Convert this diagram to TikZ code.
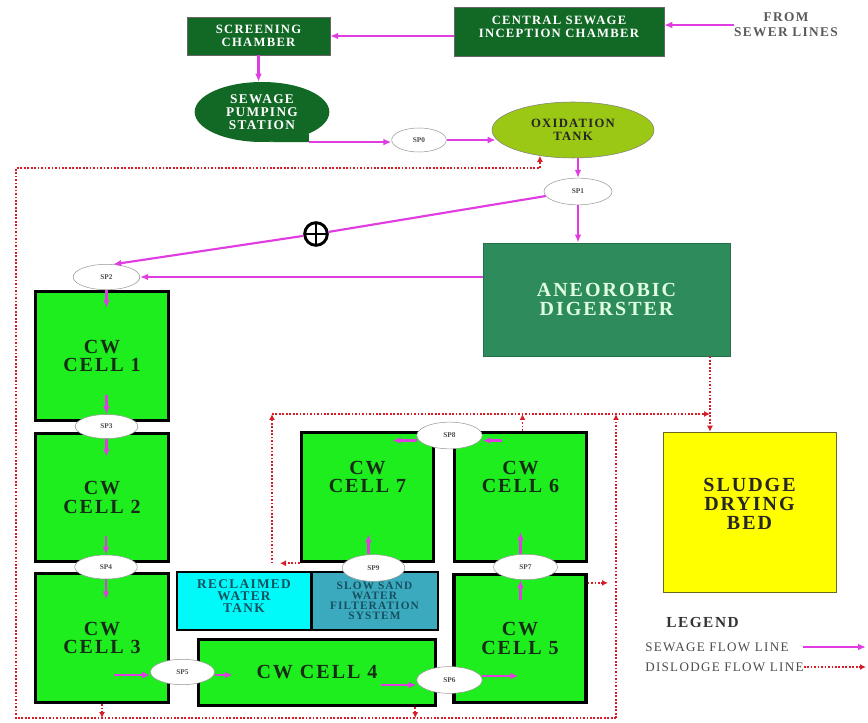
\documentclass[tikz,border=0pt]{standalone}
\usepackage{fontspec}
\setmainfont{Liberation Serif}
\newfontfamily\widefont[LetterSpace=10]{Liberation Serif}
\usetikzlibrary{arrows.meta,shapes.geometric,calc}

\definecolor{boxgreen}{RGB}{18,105,38}
\definecolor{diggreen}{RGB}{46,139,92}
\definecolor{oxigreen}{RGB}{155,200,20}
\definecolor{cellgreen}{RGB}{30,238,30}
\definecolor{celltext}{RGB}{20,45,20}
\definecolor{tankcyan}{RGB}{0,250,250}
\definecolor{sandteal}{RGB}{60,170,190}
\definecolor{tanktext}{RGB}{20,80,95}
\definecolor{bedyellow}{RGB}{255,255,0}
\definecolor{flowpink}{RGB}{225,60,225}
\definecolor{dlred}{RGB}{215,30,40}

\tikzset{
  darkbox/.style={draw=black!60, fill=boxgreen, text=white, align=center, inner sep=0pt,
    font=\widefont\bfseries\fontsize{9.5}{10}\selectfont},
  cell/.style={draw=black, line width=2.4pt, fill=cellgreen, text=celltext, align=center, inner sep=0pt,
    font=\widefont\bfseries\fontsize{15}{14}\selectfont},
  celltxt/.style={text=celltext, align=center, inner sep=0pt,
    font=\widefont\bfseries\fontsize{15}{14}\selectfont},
  tankbox/.style={draw=black, line width=2pt, text=tanktext, align=center, inner sep=0pt},
  sp/.style={ellipse, draw=black!40, fill=white, inner sep=0pt, text=black!70,
    font=\bfseries\fontsize{5.5}{6}\selectfont},
  flow/.style={draw=flowpink, line width=1.6pt, -{Latex[length=6pt,width=5pt]}},
  dislodge/.style={draw=dlred, line width=1.3pt, dash pattern=on 1.3pt off 1.3pt,
    -{Latex[length=4.5pt,width=4.5pt]}},
  legtext/.style={text=black!70, inner sep=0pt, font=\widefont\fontsize{9.8}{10}\selectfont}
}

\begin{document}
\begin{tikzpicture}[x=0.75pt,y=0.75pt,yscale=-1,xscale=1]
\useasboundingbox (0,0) rectangle (868,723);

% Intake
\node[darkbox, minimum width=107pt, minimum height=28.5pt] (scr) at (258.5,36) {SCREENING\\CHAMBER};
\node[darkbox, minimum width=157.5pt, minimum height=36.75pt] (cen) at (559,31.5) {CENTRAL SEWAGE\\INCEPTION CHAMBER\\[-3pt]};
\node[text=black!65, align=center, inner sep=0pt, font=\widefont\bfseries\fontsize{10}{11}\selectfont] (from) at (786,25) {FROM\\SEWER LINES};
\node[ellipse, fill=boxgreen, text=white, align=center, inner sep=0pt, minimum width=101pt, minimum height=45pt,
  font=\widefont\bfseries\fontsize{10}{9.5}\selectfont] (pump) at (262,112) {SEWAGE\\PUMPING\\STATION};
\fill[boxgreen] (pump.-25) |- (pump.-75) -- cycle;
\coordinate (tail) at (pump.-25 |- pump.-75);
\node[sp, minimum width=41pt, minimum height=18pt] (sp0) at (419,140) {SP0};
\node[ellipse, draw=black!50, fill=oxigreen, text=black!85, align=center, inner sep=0pt, minimum width=121.5pt, minimum height=42pt,
  font=\widefont\bfseries\fontsize{9.5}{10}\selectfont] (oxi) at (573,130) {OXIDATION\\TANK};
\node[sp, minimum width=51pt, minimum height=20pt] (sp1) at (578,191.5) {SP1};
\node[fill=diggreen, draw=diggreen!80!black, text=white!88!green, align=center, inner sep=0pt, minimum width=185pt, minimum height=85pt,
  font=\widefont\bfseries\fontsize{15}{14}\selectfont] (dig) at (606.5,299.5) {ANEOROBIC\\DIGERSTER};
\node[draw, circle, line width=2.2pt, fill=white, minimum size=17pt, inner sep=0pt,
  path picture={\draw[line width=1.8pt] (path picture bounding box.north) -- (path picture bounding box.south)
    (path picture bounding box.west) -- (path picture bounding box.east);}] (op) at (316,234) {};

% Wetland cells
\node[cell, minimum width=100pt, minimum height=97pt] (c1) at (102,356) {CW\\CELL 1};
\node[cell, minimum width=100pt, minimum height=96pt] (c2) at (102,497.5) {CW\\CELL 2};
\node[cell, minimum width=100pt, minimum height=97pt] (c3) at (102,638) {CW\\CELL 3};
\node[cell, minimum width=178pt, minimum height=50pt] (c4) at (317,672.5) {CW CELL 4};
\node[cell, minimum width=99pt, minimum height=96pt] (c5) at (520,638.5) {CW\\CELL 5};
\node[cell, minimum width=99pt, minimum height=97pt] (c6) at (520.5,497) {};
\node[celltxt] (c6t) at (520.5,477) {CW\\CELL 6};
\node[cell, minimum width=99pt, minimum height=97pt] (c7) at (367.5,497) {};
\node[celltxt] (c7t) at (367.5,477) {CW\\CELL 7};
\node[tankbox, fill=tankcyan, minimum width=100.5pt, minimum height=43.5pt,
  font=\widefont\bfseries\fontsize{10}{9}\selectfont] (rec) at (244,601) {RECLAIMED\\WATER\\TANK\\[-2pt]};
\node[tankbox, fill=sandteal, minimum width=95pt, minimum height=43.5pt,
  font=\widefont\bfseries\fontsize{8.5}{7.6}\selectfont] (sand) at (374.5,601) {SLOW SAND\\WATER\\FILTERATION\\SYSTEM};
\node[draw=olive!70!black, fill=bedyellow, text=black!85, align=center, inner sep=0pt, minimum width=130pt, minimum height=120pt,
  font=\widefont\bfseries\fontsize{15}{14}\selectfont] (bed) at (749.5,512) {SLUDGE\\DRYING\\BED\\[-2pt]};

% Sampling points
\node[sp, minimum width=50pt, minimum height=19pt] (sp2) at (106.5,277) {SP2};
\node[sp, minimum width=47pt, minimum height=18pt] (sp3) at (106.5,426.5) {SP3};
\node[sp, minimum width=47pt, minimum height=18pt] (sp4) at (106,567) {SP4};
\node[sp, minimum width=48pt, minimum height=19pt] (sp5) at (182.5,672) {SP5};
\node[sp, minimum width=49pt, minimum height=20pt] (sp6) at (449.5,680) {SP6};
\node[sp, minimum width=48pt, minimum height=19pt] (sp7) at (525.5,567) {SP7};
\node[sp, minimum width=49pt, minimum height=20pt] (sp8) at (449.5,435.5) {SP8};
\node[sp, minimum width=47pt, minimum height=20pt] (sp9) at (373.5,568) {SP9};

% Sewage flow
\draw[flow] (from.west) -- (from.west -| cen.east);
\draw[flow] (cen.west |- scr.east) -- (scr.east);
\draw[flow] (scr.south) -- (scr.south |- pump.north);
\draw[flow] (tail) -- (tail -| sp0.west);
\draw[flow] (sp0.east) -- ($(sp0.east -| oxi.west)+(4,0)$);
\draw[flow] (oxi.south -| sp1.north) -- (sp1.north);
\draw[flow] (sp1.south) -- (sp1.south |- dig.north);
\draw[flow] (sp1.188) -- (op) -- (sp2.62);
\draw[flow] (dig.west |- sp2.east) -- (sp2.east);
\draw[flow] (sp2.south) -- ++(0,18);
\draw[flow] ($(sp3.north)+(0,-19)$) -- (sp3.north);
\draw[flow] (sp3.south) -- ++(0,18);
\draw[flow] ($(sp4.north)+(0,-19)$) -- (sp4.north);
\draw[flow] (sp4.south) -- ++(0,20);
\draw[flow] ($(sp5.west)+(-36,3)$) -- ($(sp5.west)+(0,3)$);
\draw[flow] ($(sp5.east)+(0,3)$) -- ++(18,0);
\draw[flow] ($(sp6.west)+(-36,5)$) -- ($(sp6.west)+(0,5)$);
\draw[flow] ($(sp6.east)+(0,-4)$) -- ++(36,0);
\draw[flow] ($(sp7.south)+(-5,20)$) -- ($(sp7.south)+(-5,0)$);
\draw[flow] ($(sp7.north)+(-5,0)$) -- ++(0,-22);
\draw[flow] ($(sp8.east)+(20,5)$) -- ($(sp8.east)+(0,5)$);
\draw[flow] ($(sp8.west)+(0,5)$) -- ++(-24,0);
\draw[flow] ($(sp9.north)+(-5,0)$) -- ++(0,-20);

% Dislodge flow
\coordinate (bl) at (16,718);
\coordinate (tl) at (16,168);
\coordinate (br) at (616,718);
\coordinate (tr) at (616,414);
\coordinate (tl2) at (272,414);
\coordinate (tk) at (710,414);
\draw[dislodge] (br) -- (bl) -- (tl) -- (tl -| oxi.-142) -- (oxi.-142);
\draw[dislodge] (br) -- (tr);
\draw[dislodge] (tl2) -- (tk);
\draw[dislodge] (dig.south -| tk) -- (bed.north -| tk);
\draw[dislodge] (c7.south west) -- ($(c7.south west -| tl2)+(8,0)$);
\draw[dislodge] (c7.south west -| tl2) -- (tl2);
\draw[dislodge] ($(c6.north)+(2,0)$) -- ($(c6.north |- tl2)+(2,0)$);
\draw[dislodge] ($(c5.north east)+(0,10)$) -- ($(c5.north east -| br)+(-8,10)$);
\draw[dislodge] (c3.south) -- (c3.south |- bl);
\draw[dislodge] ($(c4.south east)+(-22,0)$) -- ($(c4.south east |- bl)+(-22,0)$);

% Legend
\node[anchor=west, inner sep=0pt, text=black!80, font=\widefont\bfseries\fontsize{11.5}{12}\selectfont] (leg) at (666,622) {LEGEND};
\node[legtext, anchor=west] (leg1) at (645,647) {SEWAGE FLOW LINE};
\node[legtext, anchor=west] (leg2) at (645,667) {DISLODGE FLOW LINE};
\coordinate (leg1e) at (866,647);
\coordinate (leg2e) at (866,667);
\draw[flow] ($(leg1.east)+(14,0)$) -- (leg1e);
\draw[dislodge] (leg2.east) -- (leg2e);

\end{tikzpicture}
\end{document}
